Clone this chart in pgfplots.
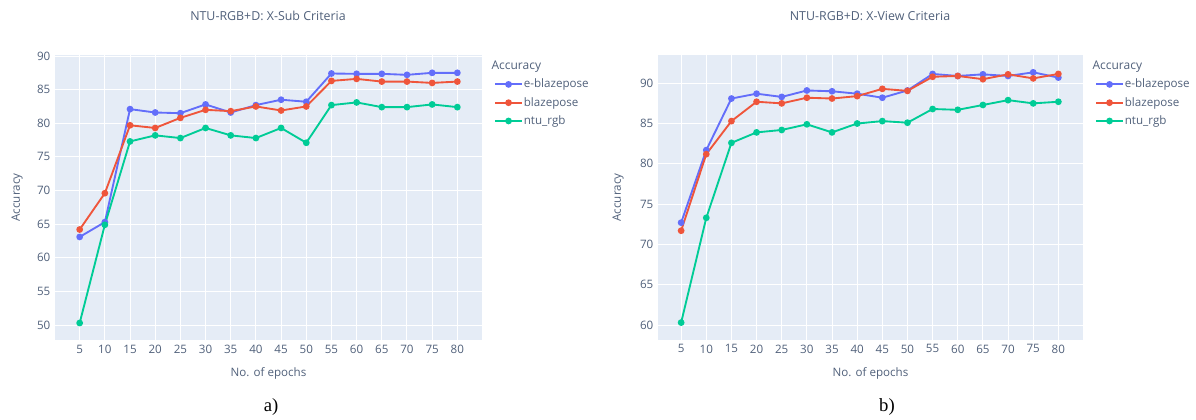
\documentclass[border=0pt]{standalone}
\usepackage{fontspec}
\setmainfont{Open Sans}
\newfontfamily\capfont{Liberation Serif}
\usepackage{pgfplots}
\pgfplotsset{compat=1.18}

\definecolor{pbg}{HTML}{E5ECF6}
\definecolor{ptext}{HTML}{50607A}
\definecolor{pblue}{HTML}{636EFA}
\definecolor{pred}{HTML}{EF553B}
\definecolor{pgreen}{HTML}{00CC96}

\pgfplotsset{
  plotly/.style={
    scale only axis,
    anchor=north west,
    height=213.75pt,
    axis background/.style={fill=pbg},
    axis line style={draw=none},
    grid=major,
    major grid style={white, line width=0.75pt},
    major tick length=0pt,
    xtick={5,10,...,80},
    ytick distance=5,
    ticklabel style={font=\fontsize{8.7}{10}\selectfont, text=ptext},
    /pgf/number format/assume math mode=true,
    label style={font=\fontsize{8.7}{10}\selectfont, text=ptext},
    xlabel={No. of epochs},
    ylabel={Accuracy},
    clip=false,
    every axis plot/.append style={line width=1.4pt, mark=*, mark size=1.8pt},
    legend style={at={(axis description cs:1,1)}, anchor=north west,
      xshift=9pt, yshift=-17pt, draw=none, fill=none,
      font=\fontsize{8.7}{10}\selectfont, text=ptext,
      row sep=4pt, inner sep=0pt,
      nodes={inner sep=0.8pt}},
    legend cell align=left,
    legend image code/.code={\draw[mark repeat=2,mark phase=2,#1]
      plot coordinates {(0pt,0pt) (10pt,0pt) (20pt,0pt)};},
  }
}

\begin{document}
\begin{tikzpicture}
\useasboundingbox (0,0) rectangle (897pt,-314.25pt);

% a) X-Sub
\begin{axis}[plotly, at={(41.25pt,-41.25pt)}, width=320.25pt,
  xmin=0.1, xmax=84.9, ymin=47.77, ymax=90.15,
  xlabel style={at={(axis description cs:0.5,-0.116)}, anchor=center},
  ylabel style={at={(axis description cs:-0.089,0.5)}, anchor=center}]
\addplot[pblue] coordinates {
(5,63.1) (10,65.3) (15,82.1) (20,81.6) (25,81.5) (30,82.8) (35,81.6) (40,82.7)
(45,83.5) (50,83.2) (55,87.4) (60,87.35) (65,87.35) (70,87.2) (75,87.5) (80,87.5)};
\addlegendentry{e-blazepose}
\addplot[pred] coordinates {
(5,64.2) (10,69.6) (15,79.7) (20,79.3) (25,80.8) (30,82.0) (35,81.8) (40,82.5)
(45,81.9) (50,82.5) (55,86.3) (60,86.6) (65,86.2) (70,86.2) (75,86.0) (80,86.2)};
\addlegendentry{blazepose}
\addplot[pgreen] coordinates {
(5,50.3) (10,64.9) (15,77.3) (20,78.2) (25,77.8) (30,79.3) (35,78.2) (40,77.8)
(45,79.3) (50,77.1) (55,82.7) (60,83.1) (65,82.4) (70,82.4) (75,82.8) (80,82.4)};
\addlegendentry{ntu\_rgb}
\node[anchor=west, font=\fontsize{9}{10}\selectfont, text=ptext, inner sep=0pt]
  at (axis description cs:1,1) [xshift=7pt, yshift=-9pt] {Accuracy};
\end{axis}

% b) X-View
\begin{axis}[plotly, at={(493.5pt,-41.25pt)}, width=318.75pt,
  xmin=0.4, xmax=84.9, ymin=58.14, ymax=93.5,
  xlabel style={at={(axis description cs:0.5,-0.116)}, anchor=center},
  ylabel style={at={(axis description cs:-0.094,0.5)}, anchor=center}]
\addplot[pblue] coordinates {
(5,72.7) (10,81.7) (15,88.1) (20,88.7) (25,88.3) (30,89.1) (35,89.0) (40,88.7)
(45,88.2) (50,89.1) (55,91.15) (60,90.9) (65,91.1) (70,90.9) (75,91.35) (80,90.7)};
\addlegendentry{e-blazepose}
\addplot[pred] coordinates {
(5,71.7) (10,81.2) (15,85.3) (20,87.7) (25,87.5) (30,88.2) (35,88.1) (40,88.4)
(45,89.3) (50,89.05) (55,90.8) (60,90.9) (65,90.5) (70,91.1) (75,90.6) (80,91.15)};
\addlegendentry{blazepose}
\addplot[pgreen] coordinates {
(5,60.3) (10,73.3) (15,82.6) (20,83.9) (25,84.2) (30,84.9) (35,83.9) (40,85.0)
(45,85.3) (50,85.1) (55,86.8) (60,86.7) (65,87.3) (70,87.9) (75,87.5) (80,87.7)};
\addlegendentry{ntu\_rgb}
\node[anchor=west, font=\fontsize{9}{10}\selectfont, text=ptext, inner sep=0pt]
  at (axis description cs:1,1) [xshift=7pt, yshift=-9pt] {Accuracy};
\end{axis}

% titles and captions
\node[font=\fontsize{9.3}{11}\selectfont, text=ptext] at (201pt,-12pt) {NTU-RGB+D: X-Sub Criteria};
\node[font=\fontsize{9.3}{11}\selectfont, text=ptext] at (652.5pt,-12pt) {NTU-RGB+D: X-View Criteria};
\node[font=\capfont\fontsize{14}{16}\selectfont] at (203.25pt,-305pt) {a)};
\node[font=\capfont\fontsize{14}{16}\selectfont] at (665.25pt,-305pt) {b)};
\end{tikzpicture}
\end{document}
